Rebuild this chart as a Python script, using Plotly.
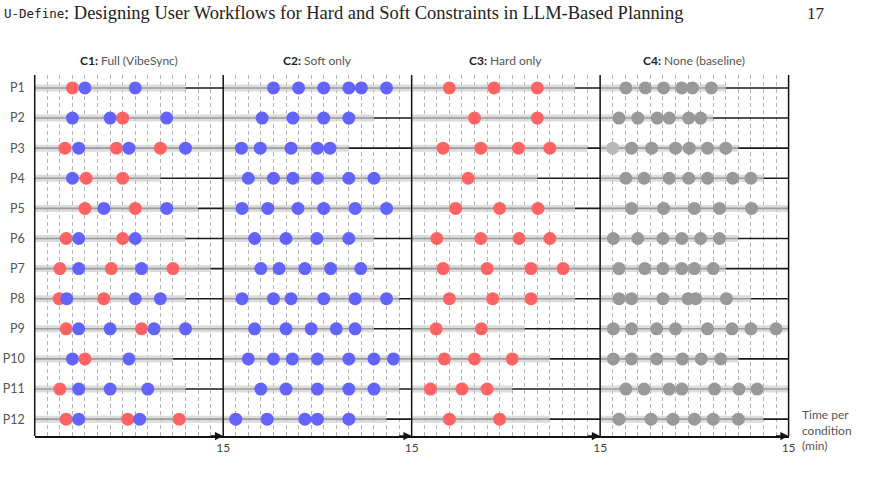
import plotly.graph_objects as go

W, H = 869, 482

participants = ["P1", "P2", "P3", "P4", "P5", "P6", "P7", "P8", "P9", "P10", "P11", "P12"]
conditions = ["C1:", "C2:", "C3:", "C4:"]
condition_names = ["Full (VibeSync)", "Soft only", "Hard only", "None (baseline)"]
axis_max = 15
axis_tick_label = "15"

# C1: Full (VibeSync) - soft (blue) and hard (red) constraint events, minutes
c1_soft = [[4.0, 8.0], [3.0, 6.0, 10.5], [3.5, 7.5, 12.0], [3.0], [5.5, 10.5], [3.5, 8.0],
           [3.5, 8.5], [2.55, 8.0, 10.0], [3.5, 6.0, 9.5, 12.0], [3.0, 7.5], [3.5, 6.0, 9.0], [3.5, 8.35]]
c1_hard = [[3.0], [7.0], [2.4, 6.5, 10.0], [4.1, 7.0], [4.0, 8.0], [2.5, 7.0],
           [2.0, 6.1, 11.0], [1.95, 5.5], [2.5, 8.5], [4.0], [2.0], [2.5, 7.4, 11.5]]
c1_end = [12, 15, 15, 10, 13, 12, 14, 12, 15, 11, 12, 15]

# C2: Soft only (blue)
c2_soft = [[4, 6, 8, 10, 11, 13], [3.1, 5.55, 8, 10], [1.45, 2.95, 5.4, 7.5, 8.5],
           [2, 4, 5.55, 7.5, 10, 12], [1.5, 3.55, 5.95, 8, 10.5, 13], [2.5, 5, 7.45, 10],
           [3, 4.45, 6.5, 8.55, 10.95], [1.5, 4, 5.4, 8, 10.5, 13], [2.5, 5, 7, 9, 10.5],
           [2, 4, 5.5, 7.5, 10, 12, 13.55], [3, 5, 7.5, 10, 12], [1, 3.5, 6.5, 7.5, 10]]
c2_end = [15, 12, 10, 15, 15, 12, 12, 14, 12, 15, 14, 13]

# C3: Hard only (red)
c3_hard = [[3, 6.55, 10], [5, 10], [2.5, 5.5, 8.5, 11], [4.5], [3.5, 7, 10.05],
           [2, 5.5, 8.55, 11], [2.5, 6, 9.5, 12.05], [3, 6.45, 9.5], [1.95, 5.55],
           [2.6, 5, 8], [1.5, 4, 6], [3, 7]]
c3_end = [13, 15, 14, 10, 13, 15, 15, 13, 9, 11, 8, 11]

# C4: None (baseline) (gray)
c4_none = [[2.05, 3.6, 5.05, 6.5, 7.35, 8.85], [1.5, 3, 4.55, 5.5, 7.05, 8],
           [2.5, 4.1, 6, 7.1, 8.55, 10], [2.05, 3.5, 5.5, 7.05, 8.55, 10.55, 12],
           [2.5, 5.05, 7.5, 9.5, 12.05], [1.05, 3, 5, 6.5, 8, 9.5],
           [1.5, 3.55, 5, 6.5, 7.5, 9], [1.5, 2.5, 5, 7, 7.6, 10.05],
           [1.05, 2.5, 4.5, 6, 8.55, 10.5, 12, 14], [1.05, 2.5, 4.5, 6.55, 8.05, 9.6],
           [2.05, 3.5, 5.5, 6.5, 9.1, 11.05, 12.5], [1.5, 4.05, 5.8, 7.5, 9, 11]]
c4_light = [[], [], [1.0], [], [], [], [], [], [], [], [], []]
c4_end = [10, 9, 11, 13, 15, 11, 10, 12, 15, 11, 15, 13]

RED = "#ff6363"
BLUE = "#6363ff"
GRAY = "#999999"
LIGHT = "#b8b8b8"
FONT = "Lato"

panels = [
    ([(c1_hard, RED), (c1_soft, BLUE)], c1_end),
    ([(c2_soft, BLUE)], c2_end),
    ([(c3_hard, RED)], c3_end),
    ([(c4_light, LIGHT), (c4_none, GRAY)], c4_end),
]

# layout geometry (pixels)
left0, pw = 35, 190
top_px, bot_px = 75, 436
ydom = [(H - bot_px) / H, (H - top_px) / H]

fig = go.Figure()
layout = dict(width=W, height=H, margin=dict(l=0, r=0, t=0, b=0),
              paper_bgcolor="white", plot_bgcolor="white", showlegend=False,
              font=dict(family=FONT, size=12, color="#444"))

for i, (series, ends) in enumerate(panels):
    xa = "x" if i == 0 else f"x{i+1}"
    key = "xaxis" if i == 0 else f"xaxis{i+1}"
    layout[key] = dict(
        domain=[(left0 + pw * i) / W, (left0 + pw * (i + 1)) / W],
        range=[0, axis_max], anchor="y",
        showline=True, linecolor="#111", linewidth=1.5,
        tickvals=[axis_max], ticktext=[axis_tick_label], ticks="",
        tickfont=dict(family=FONT, size=12, color="#444"),
        showgrid=False, zeroline=False, fixedrange=True,
        minor=dict(tickvals=list(range(1, axis_max)), showgrid=True, griddash="4px,3px",
                   gridcolor="#b4b4b4", gridwidth=1, ticks=""),
    )
    # per-row base line and duration band
    for r, p in enumerate(participants):
        fig.add_trace(go.Scatter(x=[0, axis_max], y=[r, r], xaxis=xa, yaxis="y", mode="lines",
                                 line=dict(color="#1a1a1a", width=1.6), hoverinfo="skip"))
        fig.add_trace(go.Scatter(x=[0, ends[r]], y=[r, r], xaxis=xa, yaxis="y", mode="lines",
                                 line=dict(color="rgba(206,206,206,0.72)", width=7), hoverinfo="skip"))
    for data, col in series:
        xs, ys = [], []
        for r, vals in enumerate(data):
            for v in vals:
                xs.append(v)
                ys.append(r)
        fig.add_trace(go.Scatter(x=xs, y=ys, xaxis=xa, yaxis="y", mode="markers",
                                 marker=dict(color=col, size=13, line=dict(width=0)),
                                 cliponaxis=False))
    # panel border
    fig.add_shape(type="line", xref=f"{xa} domain", yref="paper", x0=0, x1=0,
                  y0=ydom[0], y1=ydom[1], line=dict(color="#111", width=1.5))
    # arrow at the end of the time axis
    fig.add_annotation(x=axis_max, y=ydom[0], xref=xa, yref="paper", text="", showarrow=True,
                       arrowhead=2, arrowsize=1.1, arrowwidth=1.5, arrowcolor="#111",
                       ax=-14, ay=0)
    # panel title
    fig.add_annotation(x=0.5, y=(H - 60) / H, xref=f"{xa} domain", yref="paper",
                       text=f"<b><span style='color:#222'>{conditions[i]}</span></b> {condition_names[i]}",
                       showarrow=False, font=dict(family=FONT, size=12, color="#555"),
                       xanchor="center", yanchor="middle")

# right border of last panel
fig.add_shape(type="line", xref="x4 domain", yref="paper", x0=1, x1=1,
              y0=ydom[0], y1=ydom[1], line=dict(color="#111", width=1.5))

layout["yaxis"] = dict(domain=ydom, range=[11.56, -0.43], anchor="x",
                       tickvals=list(range(len(participants))), ticktext=participants,
                       ticks="", showgrid=False, zeroline=False, showline=False,
                       ticklabelstandoff=9,
                       tickfont=dict(family=FONT, size=12.5, color="#555"), fixedrange=True)
fig.update_layout(**layout)

# axis caption
fig.add_annotation(x=806 / W, y=(H - 430) / H, xref="paper", yref="paper",
                   text="Time per<br>condition<br>(min)", showarrow=False, align="left",
                   xanchor="left", yanchor="middle",
                   font=dict(family=FONT, size=12, color="#555"))

# page header
fig.add_annotation(x=2 / W, y=(H - 13) / H, xref="paper", yref="paper", text="U-Define",
                   showarrow=False, xanchor="left", yanchor="middle",
                   font=dict(family="DejaVu Sans Mono", size=12.5, color="#222"))
fig.add_annotation(x=63 / W, y=(H - 13) / H, xref="paper", yref="paper",
                   text=": Designing User Workflows for Hard and Soft Constraints in LLM-Based Planning",
                   showarrow=False, xanchor="left", yanchor="middle",
                   font=dict(family="Liberation Serif", size=18.5, color="#222"))
fig.add_annotation(x=834 / W, y=(H - 13) / H, xref="paper", yref="paper", text="17",
                   showarrow=False, xanchor="right", yanchor="middle",
                   font=dict(family="Liberation Serif", size=17, color="#222"))

fig.write_html("out.html")
